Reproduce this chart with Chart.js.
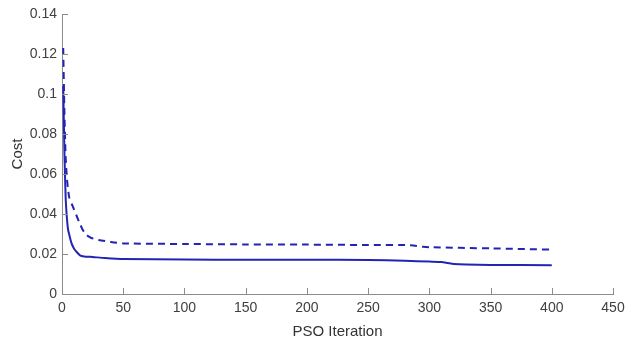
<!DOCTYPE html>
<html>
<head>
<meta charset="utf-8">
<script src="https://cdn.jsdelivr.net/npm/chart.js@4.4.1/dist/chart.umd.min.js"></script>
<style>
  html, body { margin: 0; padding: 0; background: #fff; }
  #wrap { width: 633px; height: 343px; }
</style>
</head>
<body>
<div id="wrap"><canvas id="costchart"></canvas></div>
<script>
// solid curve
const solidIter = [1, 2, 3, 4, 5, 6, 7, 8, 10, 12, 15, 18, 25, 35, 50, 100, 150, 200, 250, 280, 300, 310, 315, 320, 330, 350, 400];
const solidCost = [0.104, 0.07, 0.048, 0.038, 0.032, 0.0295, 0.027, 0.025, 0.0225, 0.021, 0.0192, 0.0188, 0.0185, 0.018, 0.0175, 0.0172, 0.0171, 0.0171, 0.017, 0.0166, 0.0162, 0.016, 0.0155, 0.015, 0.0147, 0.0145, 0.0144];

// dashed curve
const dashIter = [1, 2, 3, 4, 5, 6, 8, 10, 12, 14, 17, 20, 24, 30, 40, 50, 100, 150, 200, 250, 285, 295, 300, 350, 400];
const dashCost = [0.123, 0.09, 0.068, 0.058, 0.052, 0.048, 0.045, 0.042, 0.039, 0.036, 0.032, 0.0295, 0.028, 0.027, 0.026, 0.0253, 0.025, 0.0248, 0.0247, 0.0245, 0.0244, 0.0236, 0.0234, 0.0228, 0.0222];

const xTicks = [0, 50, 100, 150, 200, 250, 300, 350, 400, 450];
const yTicks = [0, 0.02, 0.04, 0.06, 0.08, 0.1, 0.12, 0.14];

const toPoints = (xs, ys) => xs.map((x, i) => ({ x: x, y: ys[i] }));

const lineColor = '#2424b4';
const axisColor = '#8c8c8c';
const textColor = '#404040';

// matlab style ticks pointing into the plot
const innerTicks = {
  id: 'innerTicks',
  afterDraw(chart) {
    const { ctx, scales: { x, y } } = chart;
    ctx.save();
    ctx.strokeStyle = axisColor;
    ctx.lineWidth = 1;
    ctx.beginPath();
    xTicks.forEach(v => {
      const px = Math.round(x.getPixelForValue(v)) + 0.5;
      ctx.moveTo(px, y.bottom);
      ctx.lineTo(px, y.bottom - 6);
    });
    yTicks.forEach(v => {
      const py = Math.round(y.getPixelForValue(v)) + 0.5;
      ctx.moveTo(x.left, py);
      ctx.lineTo(x.left + 6, py);
    });
    ctx.stroke();
    ctx.restore();
  }
};

new Chart(document.getElementById('costchart'), {
  type: 'line',
  data: {
    datasets: [
      {
        label: 'solid',
        data: toPoints(solidIter, solidCost),
        borderColor: lineColor,
        borderWidth: 2,
        pointRadius: 0,
        tension: 0.2,
        fill: false
      },
      {
        label: 'dashed',
        data: toPoints(dashIter, dashCost),
        borderColor: lineColor,
        borderWidth: 2,
        borderDash: [7, 5],
        pointRadius: 0,
        tension: 0.2,
        fill: false
      }
    ]
  },
  options: {
    responsive: true,
    maintainAspectRatio: false,
    animation: false,
    layout: { padding: { top: 14, right: 20, left: 0, bottom: 0 } },
    plugins: {
      legend: { display: false },
      tooltip: { enabled: false }
    },
    scales: {
      x: {
        type: 'linear',
        min: 0,
        max: 450,
        afterBuildTicks: s => { s.ticks = xTicks.map(v => ({ value: v })); },
        afterFit: s => { s.height = 49; },
        border: { color: axisColor, width: 1 },
        grid: { drawOnChartArea: false, drawTicks: false },
        ticks: {
          color: textColor,
          padding: 6,
          maxRotation: 0,
          font: { family: 'Liberation Sans, Arial, sans-serif', size: 14 }
        },
        title: {
          display: true,
          text: 'PSO Iteration',
          color: '#333',
          padding: { top: 0, bottom: 2 },
          font: { family: 'Liberation Sans, Arial, sans-serif', size: 15 }
        }
      },
      y: {
        min: 0,
        max: 0.14,
        afterBuildTicks: s => { s.ticks = yTicks.map(v => ({ value: v })); },
        afterFit: s => { s.width = 62; },
        border: { color: axisColor, width: 1 },
        grid: { drawOnChartArea: false, drawTicks: false },
        ticks: {
          color: textColor,
          padding: 5,
          callback: v => String(parseFloat(v.toFixed(2))),
          font: { family: 'Liberation Sans, Arial, sans-serif', size: 14 }
        },
        title: {
          display: true,
          text: 'Cost',
          color: '#333',
          padding: { top: 9, bottom: 0 },
          font: { family: 'Liberation Sans, Arial, sans-serif', size: 15 }
        }
      }
    }
  },
  plugins: [innerTicks]
});
</script>
</body>
</html>
